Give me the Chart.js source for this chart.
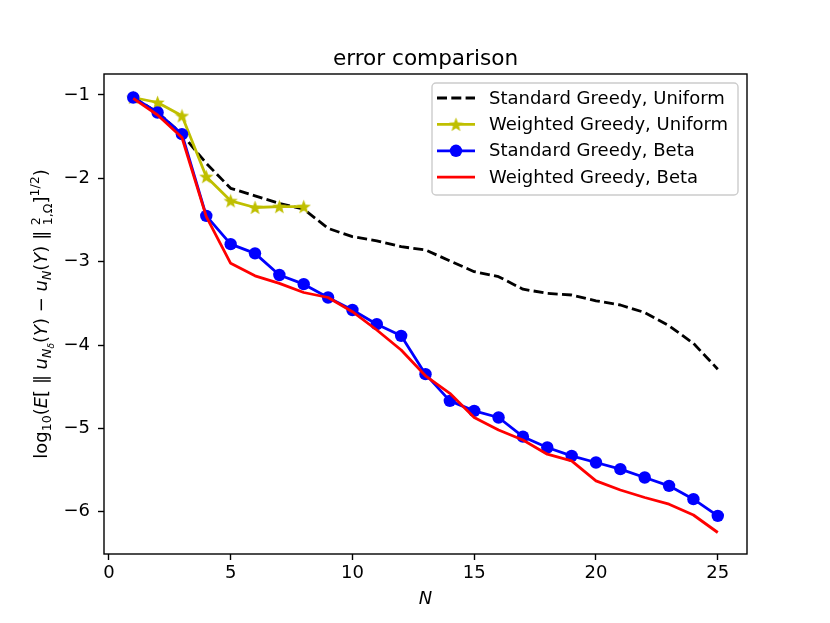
<!DOCTYPE html>
<html>
<head>
<meta charset="utf-8">
<script src="https://cdn.jsdelivr.net/npm/chart.js@4.4.0/dist/chart.umd.min.js"></script>
<style>
  html, body { margin: 0; padding: 0; background: #fff; }
  #wrap { width: 830px; height: 623px; }
</style>
</head>
<body>
<div id="wrap"><canvas id="errChart"></canvas></div>
<script>
const N = [1, 2, 3, 4, 5, 6, 7, 8, 9, 10, 11, 12, 13, 14, 15, 16, 17, 18, 19, 20, 21, 22, 23, 24, 25];
const stdUniform = [-1.03, -1.21, -1.47, -1.82, -2.12, -2.21, -2.30, -2.37, -2.60, -2.70, -2.75, -2.82, -2.86,
    -2.99, -3.12, -3.18, -3.33, -3.38, -3.40, -3.47, -3.52, -3.61, -3.77, -3.98, -4.29];
const wgtUniform = [-1.03, -1.09, -1.25, -1.98, -2.27, -2.35, -2.34, -2.34];
const stdBeta = [-1.03, -1.21, -1.47, -2.45, -2.79, -2.90, -3.16, -3.27, -3.43, -3.58, -3.75, -3.89, -4.35,
    -4.67, -4.79, -4.87, -5.10, -5.23, -5.33, -5.41, -5.49, -5.59, -5.69, -5.85, -6.05];
const wgtBeta = [-1.04, -1.24, -1.51, -2.46, -3.02, -3.17, -3.26, -3.37, -3.43, -3.60, -3.82, -4.06, -4.37,
    -4.58, -4.87, -5.02, -5.14, -5.31, -5.39, -5.63, -5.74, -5.83, -5.91, -6.04, -6.25];
const xTicks = [0, 5, 10, 15, 20, 25];
const yTicks = [-6, -5, -4, -3, -2, -1];

const FONT = '"DejaVu Sans", sans-serif';
const OLIVE = '#bfbf00';

function pts(ys) {
    return ys.map((y, i) => ({ x: N[i], y: y }));
}

// filled five-point star for the marker
function makeStar(size, color) {
    const c = document.createElement('canvas');
    c.width = size; c.height = size;
    const g = c.getContext('2d');
    const cx = size / 2, cy = size / 2 + 0.6, R = size / 2, r = R * 0.42;
    g.beginPath();
    for (let i = 0; i < 10; i++) {
        const a = -Math.PI / 2 + i * Math.PI / 5;
        const rr = i % 2 === 0 ? R : r;
        g.lineTo(cx + rr * Math.cos(a), cy + rr * Math.sin(a));
    }
    g.closePath();
    g.fillStyle = color;
    g.fill();
    return c;
}
const star = makeStar(15, OLIVE);

// y label pieces: text, size, baseline shift, italic
const yLabel = [
    { t: 'log', s: 18 }, { t: '10', s: 12.6, d: 4 }, { t: '(', s: 18 },
    { t: 'E', s: 18, i: true }, { t: '[ \u2225 ', s: 18 },
    { t: 'u', s: 18, i: true }, { t: 'N', s: 12.6, d: 4, i: true }, { t: '\u03b4', s: 9, d: 7, i: true },
    { t: '(', s: 18 }, { t: 'Y', s: 18, i: true }, { t: ') \u2212 ', s: 18 },
    { t: 'u', s: 18, i: true }, { t: 'N', s: 12.6, d: 4, i: true },
    { t: '(', s: 18 }, { t: 'Y', s: 18, i: true }, { t: ') \u2225 ', s: 18 },
    { sup: '2', sub: '1,\u03a9', s: 12.6 },
    { t: ']', s: 18 }, { t: '1/2', s: 12.6, d: -8 }, { t: ')', s: 18 }
];

function fontOf(p) {
    return (p.i ? 'italic ' : '') + p.s + 'px ' + FONT;
}

const decorPlugin = {
    id: 'decor',
    afterDraw(chart) {
        const ctx = chart.ctx;
        const a = chart.chartArea;
        ctx.save();

        // frame
        ctx.strokeStyle = '#000';
        ctx.lineWidth = 1.4;
        ctx.strokeRect(a.left, a.top, a.right - a.left, a.bottom - a.top);

        // title
        ctx.fillStyle = '#000';
        ctx.font = '21.6px ' + FONT;
        ctx.textAlign = 'center';
        ctx.textBaseline = 'alphabetic';
        ctx.fillText('error comparison', (a.left + a.right) / 2, 65);

        // x label
        ctx.font = 'italic 18px ' + FONT;
        ctx.fillText('N', (a.left + a.right) / 2, 604);

        // y label, rotated
        ctx.translate(47, (a.top + a.bottom) / 2);
        ctx.rotate(-Math.PI / 2);
        ctx.textAlign = 'left';
        let total = 0;
        yLabel.forEach(p => {
            ctx.font = fontOf(p);
            if (p.sup) {
                p.w = Math.max(ctx.measureText(p.sup).width, ctx.measureText(p.sub).width);
            } else {
                p.w = ctx.measureText(p.t).width;
            }
            total += p.w;
        });
        let x = -total / 2;
        yLabel.forEach(p => {
            ctx.font = fontOf(p);
            if (p.sup) {
                ctx.fillText(p.sup, x, -7);
                ctx.fillText(p.sub, x, 5);
            } else {
                ctx.fillText(p.t, x, p.d || 0);
            }
            x += p.w;
        });
        ctx.restore();

        // legend
        ctx.save();
        const bx = 432, by = 83, bw = 306, bh = 112;
        ctx.beginPath();
        ctx.roundRect(bx, by, bw, bh, 4);
        ctx.fillStyle = 'rgba(255,255,255,0.8)';
        ctx.fill();
        ctx.strokeStyle = '#cccccc';
        ctx.lineWidth = 1.4;
        ctx.stroke();
        ctx.font = '18px ' + FONT;
        ctx.textBaseline = 'middle';
        ctx.textAlign = 'left';
        chart.data.datasets.forEach((ds, i) => {
            const y = 98 + i * 26.4;
            ctx.beginPath();
            ctx.setLineDash(ds.borderDash || []);
            ctx.strokeStyle = ds.borderColor;
            ctx.lineWidth = ds.borderWidth;
            ctx.moveTo(437, y);
            ctx.lineTo(475, y);
            ctx.stroke();
            ctx.setLineDash([]);
            if (ds.pointStyle === 'circle' && ds.pointRadius > 0) {
                ctx.beginPath();
                ctx.arc(456, y, ds.pointRadius, 0, Math.PI * 2);
                ctx.fillStyle = ds.pointBackgroundColor;
                ctx.fill();
            } else if (ds.pointStyle instanceof HTMLCanvasElement) {
                ctx.drawImage(ds.pointStyle, 456 - star.width / 2, y - star.height / 2);
            }
            ctx.fillStyle = '#000';
            ctx.fillText(ds.label, 489, y + 1);
        });
        ctx.restore();
    }
};

const ctx = document.getElementById('errChart').getContext('2d');

const errChart = new Chart(ctx, {
    type: 'line',
    data: {
        datasets: [{
            label: 'Standard Greedy, Uniform',
            data: pts(stdUniform),
            borderColor: '#000000',
            borderWidth: 2.8,
            borderDash: [10, 4.3],
            pointRadius: 0,
            order: 4
        }, {
            label: 'Weighted Greedy, Uniform',
            data: pts(wgtUniform),
            borderColor: OLIVE,
            borderWidth: 2.8,
            pointStyle: star,
            pointRadius: 7,
            order: 3
        }, {
            label: 'Standard Greedy, Beta',
            data: pts(stdBeta),
            borderColor: '#0000ff',
            borderWidth: 2.8,
            pointStyle: 'circle',
            pointRadius: 6.2,
            pointBackgroundColor: '#0000ff',
            pointBorderColor: '#0000ff',
            pointBorderWidth: 0,
            order: 2
        }, {
            label: 'Weighted Greedy, Beta',
            data: pts(wgtBeta),
            borderColor: '#ff0000',
            borderWidth: 2.8,
            pointRadius: 0,
            order: 1
        }]
    },
    options: {
        responsive: true,
        maintainAspectRatio: false,
        animation: false,
        devicePixelRatio: 1,
        layout: {
            padding: { left: 0, right: 83, top: 74, bottom: 0 }
        },
        plugins: {
            legend: { display: false },
            tooltip: { enabled: false },
            title: { display: false }
        },
        elements: {
            line: { tension: 0, borderCapStyle: 'butt', borderJoinStyle: 'round' }
        },
        scales: {
            x: {
                type: 'linear',
                min: -0.2,
                max: 26.2,
                afterFit(scale) { scale.height = 69; },
                afterBuildTicks(scale) { scale.ticks = xTicks.map(v => ({ value: v })); },
                grid: { drawOnChartArea: false, drawTicks: true, tickLength: 6, tickColor: '#000', tickWidth: 1.4 },
                border: { display: false },
                ticks: {
                    color: '#000',
                    font: { family: FONT, size: 18 },
                    padding: 3,
                    maxRotation: 0,
                    callback: v => String(v)
                }
            },
            y: {
                min: -6.508,
                max: -0.748,
                afterFit(scale) { scale.width = 104; },
                afterBuildTicks(scale) { scale.ticks = yTicks.map(v => ({ value: v })); },
                grid: { drawOnChartArea: false, drawTicks: true, tickLength: 6, tickColor: '#000', tickWidth: 1.4 },
                border: { display: false },
                ticks: {
                    color: '#000',
                    font: { family: FONT, size: 18 },
                    padding: 8,
                    callback: v => (v < 0 ? '\u2212' + Math.abs(v) : String(v))
                }
            }
        }
    },
    plugins: [decorPlugin]
});
</script>
</body>
</html>
